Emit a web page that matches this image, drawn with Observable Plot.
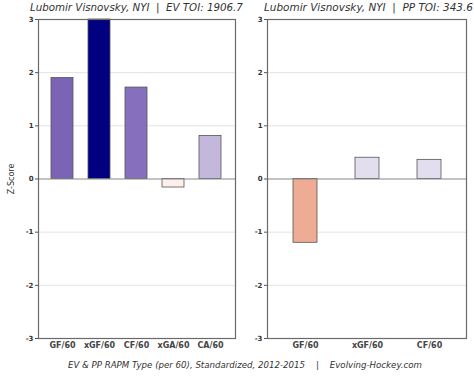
<!DOCTYPE html>
<html><head><meta charset="utf-8">
<script src="https://cdn.jsdelivr.net/npm/d3@7"></script>
<script src="https://cdn.jsdelivr.net/npm/@observablehq/plot@0.6"></script>
<style>
body{margin:0;background:#fff;font-family:"DejaVu Sans",sans-serif;}
#wrap{position:relative;width:474px;height:379px;overflow:hidden;}
.t{position:absolute;font-style:italic;color:#333;white-space:pre;}
svg{position:absolute;top:0;}
</style></head><body>
<div id="wrap"></div>
<script>
const player = "Lubomir Visnovsky, NYI";
const evToi = "1906.7";
const ppToi = "343.6";
const evCats = ["GF/60","xGF/60","CF/60","xGA/60","CA/60"];
const evVals = [1.90, 3.00, 1.72, -0.16, 0.81];
const evColors = ["#7b63b6","#000080","#8670bd","#fdf0ec","#c3b8dc"];
const ppCats = ["GF/60","xGF/60","CF/60"];
const ppVals = [-1.20, 0.40, 0.36];
const ppColors = ["#efac95","#e2deef","#e2deef"];
const yTicks = [-3,-2,-1,0,1,2,3];
const gridTicks = [-2,-1,1,2];
const caption = "EV & PP RAPM Type (per 60), Standardized, 2012-2015    |    Evolving-Hockey.com";

const wrap = document.getElementById("wrap");

function panel(cats, vals, colors, opts) {
  const data = cats.map((c,i)=>({cat:c, v:vals[i], col:colors[i]}));
  const svg = Plot.plot({
    width: opts.width, height: 352,
    marginLeft: opts.ml, marginRight: opts.mr, marginTop: 19, marginBottom: 14,
    style: {fontFamily: "DejaVu Sans, sans-serif", background: "transparent"},
    x: {domain: cats, paddingInner: opts.pi, paddingOuter: opts.po, label: null},
    y: {domain: [-3,3], label: null},
    marks: [
      Plot.ruleY(gridTicks, {stroke: "#dcdcdc", strokeWidth: 0.8}),
      Plot.barY(data, {x: "cat", y: "v", fill: "col", stroke: "#555", strokeWidth: 0.8}),
      Plot.ruleY([0], {stroke: "#888", strokeWidth: 1.2}),
      Plot.frame({stroke: "#6a6a6a", strokeWidth: 1.2}),
      Plot.axisX({tickSize: 0, tickPadding: 4, fontWeight: "bold", fontSize: 8, fill: "#444", label: null}),
      Plot.axisY({ticks: yTicks, tickSize: 3, tickPadding: 2, fontWeight: "bold", fontSize: 7, fill: "#333", stroke: "#555", tickFormat: d=>String(d), label: null})
    ]
  });
  svg.style.left = opts.left + "px";
  wrap.appendChild(svg);
}

panel(evCats, evVals, evColors, {width: 240, ml: 38, mr: 5, pi: 0.395, po: 0.29, left: 0});
panel(ppCats, ppVals, ppColors, {width: 234, ml: 27, mr: 8, pi: 0.613, po: 0.403, left: 240});

function fitText(txt, x, y, w, extra) {
  const d = document.createElement("div");
  d.className = "t";
  d.textContent = txt;
  d.style.fontSize = "12px";
  d.style.left = x + "px";
  d.style.top = y + "px";
  if (extra) Object.assign(d.style, extra);
  wrap.appendChild(d);
  const cur = d.getBoundingClientRect().width;
  d.style.fontSize = (12 * w / cur).toFixed(2) + "px";
  return d;
}
fitText(player + "  |  EV TOI: " + evToi, 30, 1, 213);
fitText(player + "  |  PP TOI: " + ppToi, 264, 1, 209);
fitText(caption, 68, 360, 354);
const yl = document.createElement("div");
yl.className = "t";
yl.textContent = "Z-Score";
Object.assign(yl.style, {fontSize: "8px", fontStyle: "normal", color: "#333", left: "11px", top: "179px", transform: "translate(-50%,-50%) rotate(-90deg)"});
wrap.appendChild(yl);
</script>
</body></html>
